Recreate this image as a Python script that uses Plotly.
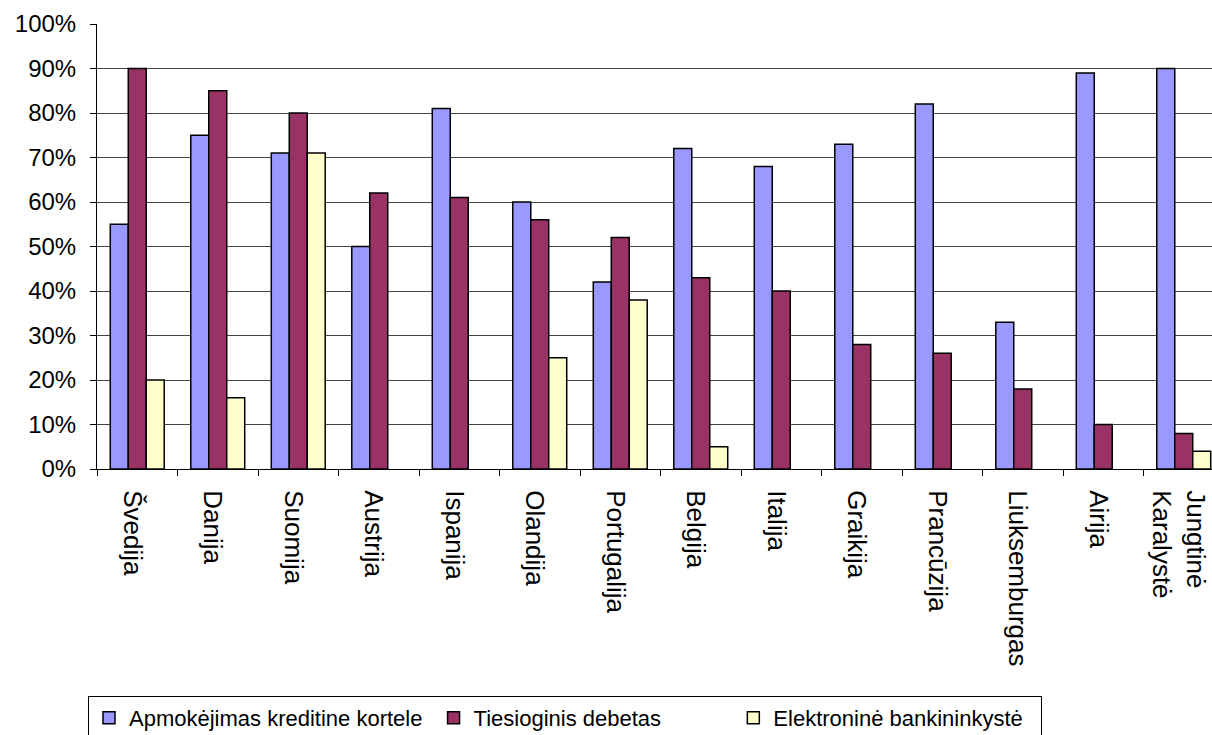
import plotly.graph_objects as go

countries = [
    "Švedija", "Danija", "Suomija", "Austrija", "Ispanija", "Olandija",
    "Portugalija", "Belgija", "Italija", "Graikija", "Prancūzija",
    "Liuksemburgas", "Airija", "Jungtinė<br>Karalystė",
]
credit_card = [55, 75, 71, 50, 81, 60, 42, 72, 68, 73, 82, 33, 89, 90]
direct_debit = [90, 85, 80, 62, 61, 56, 52, 43, 40, 28, 26, 18, 10, 8]
e_banking = [20, 16, 71, None, None, 25, 38, 5, None, None, None, None, None, 4]

series_names = [
    "Apmokėjimas kreditine kortele",
    "Tiesioginis debetas",
    "Elektroninė bankininkystė",
]
series_colors = ["#9999FF", "#993366", "#FFFFCC"]

# non-breaking spaces widen the legend entries so they spread across the box
NBSP = "\u00a0"
legend_pad = [1, 11, 2]

FONT = "Liberation Sans, Arial, sans-serif"

fig = go.Figure()
for name, vals, col, pad in zip(series_names, [credit_card, direct_debit, e_banking],
                                series_colors, legend_pad):
    fig.add_trace(go.Bar(
        x=countries, y=vals, name=name + NBSP * pad,
        marker=dict(color=col, line=dict(color="#000000", width=1.5)),
    ))

fig.update_layout(
    width=1212, height=735,
    margin=dict(l=97, r=0, t=24, b=266),
    paper_bgcolor="white", plot_bgcolor="white",
    barmode="group", bargap=0.33, bargroupgap=0,
    font=dict(family=FONT, size=23, color="#000000"),
    showlegend=True,
    legend=dict(
        orientation="h", xref="container", x=0.0726, xanchor="left",
        yref="container", y=0.053, yanchor="top",
        bordercolor="#000000", borderwidth=1,
        font=dict(family=FONT, size=22, color="#000000"),
        itemwidth=30, traceorder="normal",
    ),
)

fig.update_xaxes(
    type="category", range=[-0.5, -0.5 + 1115 / 80.5], automargin=False,
    tickangle=90, tickson="boundaries", ticks="outside", ticklen=6,
    tickcolor="#000000", showline=True, linecolor="#000000", linewidth=1,
    ticklabelstandoff=15, ticklabelshift=-5,
    showgrid=False, tickfont=dict(family=FONT, size=26, color="#000000"),
)
fig.update_yaxes(
    range=[0, 100], dtick=10, ticksuffix="%", automargin=False,
    ticks="outside", ticklen=6, tickcolor="#000000",
    showline=True, linecolor="#000000", linewidth=1,
    ticklabelstandoff=9,
    showgrid=True, gridcolor="#444444", gridwidth=1,
    zeroline=False, tickfont=dict(family=FONT, size=24, color="#000000"),
)

fig.write_html("out.html")
